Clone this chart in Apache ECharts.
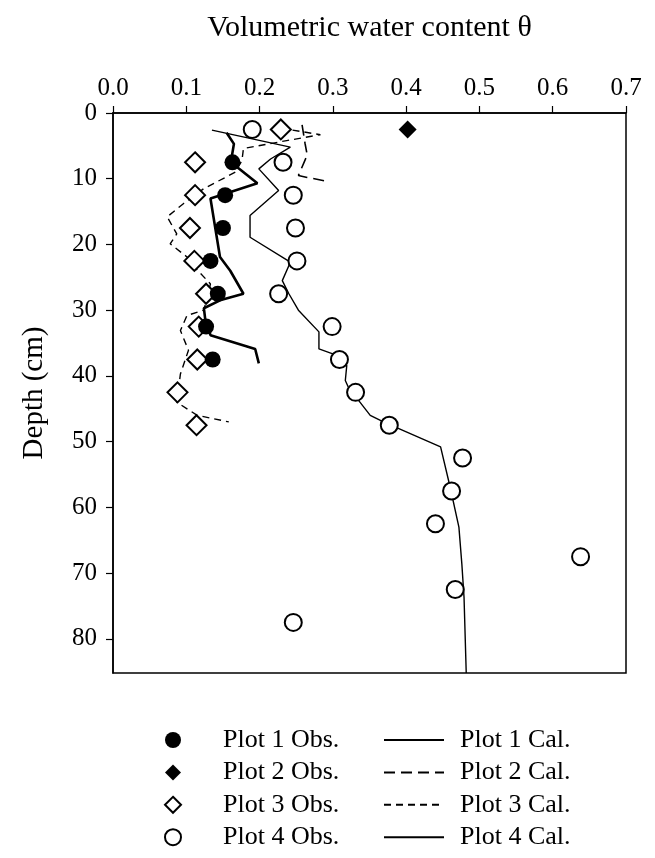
<!DOCTYPE html>
<html><head><meta charset="utf-8">
<script src="https://cdn.jsdelivr.net/npm/echarts@6/dist/echarts.min.js"></script>
<style>html,body{margin:0;padding:0;background:#fff}#c{width:655px;height:858px}</style>
</head><body><div id="c"></div>
<script>
// Observations: depth (cm) and volumetric water content
const plot1ObsDepth = [7.5, 12.5, 17.5, 22.5, 27.5, 32.5, 37.5];
const plot1ObsTheta = [0.163, 0.153, 0.150, 0.133, 0.143, 0.127, 0.136];
const plot2ObsDepth = [2.5];
const plot2ObsTheta = [0.402];
const plot3ObsDepth = [2.5, 7.5, 12.5, 17.5, 22.5, 27.5, 32.5, 37.5, 42.5, 47.5];
const plot3ObsTheta = [0.229, 0.112, 0.112, 0.105, 0.111, 0.127, 0.117, 0.115, 0.088, 0.114];
const plot4ObsDepth = [2.5, 7.5, 12.5, 17.5, 22.5, 27.5, 32.5, 37.5, 42.5, 47.5, 52.5, 57.5, 62.5, 67.5, 72.5, 77.5];
const plot4ObsTheta = [0.190, 0.232, 0.246, 0.249, 0.251, 0.226, 0.299, 0.309, 0.331, 0.377, 0.477, 0.462, 0.440, 0.638, 0.467, 0.246];

// Calculated profiles
const plot1CalTheta = [0.155, 0.165, 0.162, 0.170, 0.197, 0.133, 0.146, 0.160, 0.178, 0.146, 0.124, 0.126, 0.133, 0.194, 0.199];
const plot1CalDepth = [3.0, 4.7, 6.7, 8.3, 10.7, 13.0, 21.9, 24.0, 27.5, 28.5, 29.7, 31.5, 33.8, 35.9, 38.1];
const plot2CalTheta = [0.258, 0.262, 0.265, 0.253, 0.265, 0.288];
const plot2CalDepth = [1.8, 4.6, 6.4, 9.5, 9.8, 10.3];
const plot3CalTheta = [0.245, 0.283, 0.237, 0.178, 0.176, 0.167, 0.124, 0.096, 0.074, 0.087, 0.078, 0.101, 0.115, 0.133, 0.124, 0.101, 0.092, 0.103, 0.092, 0.087, 0.115, 0.158];
const plot3CalDepth = [2.6, 3.3, 4.2, 5.4, 7.2, 9.0, 11.5, 13.8, 15.8, 18.4, 19.9, 21.9, 23.9, 26.0, 30.0, 30.8, 33.1, 36.1, 39.7, 44.0, 46.0, 47.0];
const plot4CalTheta = [0.135, 0.242, 0.215, 0.199, 0.226, 0.187, 0.187, 0.242, 0.231, 0.240, 0.253, 0.281, 0.281, 0.299, 0.319, 0.317, 0.321, 0.351, 0.369, 0.447, 0.460, 0.472, 0.476, 0.479, 0.482];
const plot4CalDepth = [2.6, 5.2, 7.0, 8.5, 11.8, 15.6, 18.9, 22.7, 25.5, 27.5, 30.0, 33.3, 35.9, 36.6, 38.4, 40.7, 41.7, 46.0, 47.0, 50.8, 56.9, 63.0, 68.6, 73.7, 85.2];

const xTicks = [0, 0.1, 0.2, 0.3, 0.4, 0.5, 0.6, 0.7];
const yTicks = [0, 10, 20, 30, 40, 50, 60, 70, 80];

const pair = (t, d) => t.map((v, i) => [v, d[i]]);
const FONT = 'Liberation Serif';

const chart = echarts.init(document.getElementById('c'));
chart.setOption({
  animation: false,
  backgroundColor: '#fff',
  textStyle: { fontFamily: FONT, color: '#000' },
  grid: { left: 113, top: 113, width: 513, height: 560, show: true, borderColor: '#000', borderWidth: 1.5, backgroundColor: 'transparent' },
  xAxis: {
    type: 'value', position: 'top', min: 0, max: 0.7, interval: 0.1,
    name: 'Volumetric water content θ', nameLocation: 'middle', nameGap: 70,
    nameTextStyle: { fontFamily: FONT, fontSize: 30, color: '#000' },
    axisLine: { lineStyle: { color: '#000', width: 1.5 } },
    axisTick: { length: 7, lineStyle: { color: '#000', width: 1.2 }, customValues: xTicks },
    axisLabel: { margin: 12, fontFamily: FONT, fontSize: 25, color: '#000', customValues: xTicks, formatter: v => v.toFixed(1) },
    splitLine: { show: false }
  },
  yAxis: {
    type: 'value', inverse: true, min: 0, max: 85.2, interval: 10,
    name: 'Depth (cm)', nameLocation: 'middle', nameGap: 64, nameRotate: 90,
    nameTextStyle: { fontFamily: FONT, fontSize: 29, color: '#000' },
    axisLine: { lineStyle: { color: '#000', width: 1.5 } },
    axisTick: { length: 7, lineStyle: { color: '#000', width: 1.2 }, customValues: yTicks },
    axisLabel: { margin: 16, fontFamily: FONT, fontSize: 25, color: '#000', customValues: yTicks },
    splitLine: { show: false }
  },
  legend: [
    {
      orient: 'vertical', left: 159, top: 722, height: 200, itemGap: 6.4, itemWidth: 16, itemHeight: 16,
      textStyle: { fontFamily: FONT, fontSize: 26, color: '#000', padding: [0, 0, 0, 37] },
      data: ['Plot 1 Obs.', 'Plot 2 Obs.', 'Plot 3 Obs.', 'Plot 4 Obs.']
    },
    {
      orient: 'vertical', left: 378, top: 722, height: 200, itemGap: 6.4, itemWidth: 60, itemHeight: 22,
      itemStyle: { opacity: 0 },
      textStyle: { fontFamily: FONT, fontSize: 26, color: '#000', padding: [0, 0, 0, 11] },
      data: ['Plot 1 Cal.', 'Plot 2 Cal.', 'Plot 3 Cal.', 'Plot 4 Cal.']
    }
  ],
  series: [
    { name: 'Plot 1 Cal.', type: 'line', data: pair(plot1CalTheta, plot1CalDepth), symbol: 'none', lineStyle: { color: '#000', width: 2.6 }, itemStyle: { color: '#000' }, z: 2 },
    { name: 'Plot 2 Cal.', type: 'line', data: pair(plot2CalTheta, plot2CalDepth), symbol: 'none', lineStyle: { color: '#000', width: 1.6, type: [11, 6] }, itemStyle: { color: '#000' }, z: 2 },
    { name: 'Plot 3 Cal.', type: 'line', data: pair(plot3CalTheta, plot3CalDepth), symbol: 'none', lineStyle: { color: '#000', width: 1.4, type: [7, 5] }, itemStyle: { color: '#000' }, z: 2 },
    { name: 'Plot 4 Cal.', type: 'line', data: pair(plot4CalTheta, plot4CalDepth), symbol: 'none', lineStyle: { color: '#000', width: 1.4 }, itemStyle: { color: '#000' }, z: 2 },
    { name: 'Plot 1 Obs.', type: 'scatter', data: pair(plot1ObsTheta, plot1ObsDepth), symbol: 'circle', symbolSize: 16, itemStyle: { color: '#000', opacity: 1 }, z: 4 },
    { name: 'Plot 2 Obs.', type: 'scatter', data: pair(plot2ObsTheta, plot2ObsDepth), symbol: 'diamond', symbolSize: 18, itemStyle: { color: '#000', opacity: 1 }, z: 4 },
    { name: 'Plot 3 Obs.', type: 'scatter', data: pair(plot3ObsTheta, plot3ObsDepth), symbol: 'diamond', symbolSize: 20, itemStyle: { color: '#fff', borderColor: '#000', borderWidth: 2, opacity: 1 }, z: 3 },
    { name: 'Plot 4 Obs.', type: 'scatter', data: pair(plot4ObsTheta, plot4ObsDepth), symbol: 'circle', symbolSize: 17, itemStyle: { color: '#fff', borderColor: '#000', borderWidth: 2, opacity: 1 }, z: 3 }
  ]
});
</script></body></html>
